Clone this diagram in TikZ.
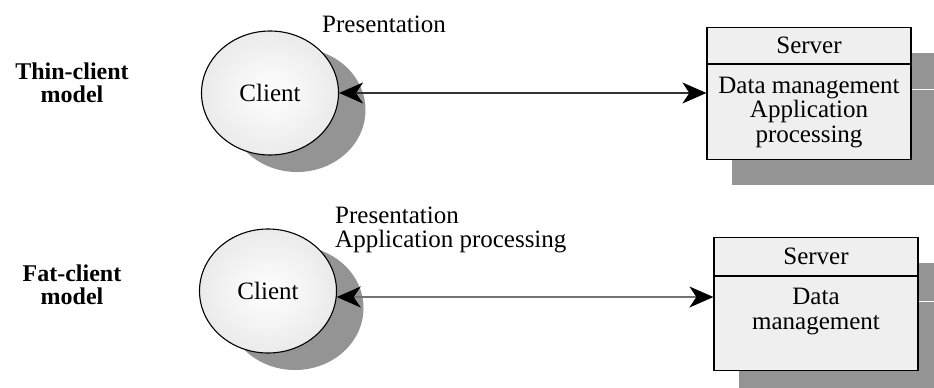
\documentclass[tikz,border=0pt]{standalone}
\usepackage{fontspec}
\setmainfont{Liberation Serif}
\usetikzlibrary{shapes.geometric,arrows.meta,shadows}

\definecolor{shadowgray}{HTML}{949494}
\definecolor{boxfill}{HTML}{EFEFEF}

\tikzset{
  every node/.style={font=\fontsize{25}{24.5}\selectfont, inner sep=0pt},
  clientnode/.style={ellipse, draw=black, line width=1.1pt,
    minimum width=137pt, minimum height=124pt,
    shading=radial, inner color=white, outer color=black!8,
    drop shadow={shadow xshift=27pt, shadow yshift=-17pt, fill=shadowgray, opacity=1}},
  serverhead/.style={rectangle, draw=black, line width=1.2pt, fill=boxfill,
    minimum width=204pt, anchor=north,
    drop shadow={shadow xshift=25pt, shadow yshift=-25pt, fill=shadowgray, opacity=1}},
  serverbody/.style={rectangle, draw=black, line width=1.2pt, fill=boxfill,
    minimum width=204pt, anchor=north, align=center,
    drop shadow={shadow xshift=25pt, shadow yshift=-25pt, fill=shadowgray, opacity=1}},
  modellabel/.style={font=\bfseries\fontsize{24}{23}\selectfont, align=center},
  tierlabel/.style={anchor=west, align=left},
  bigtip/.tip={Stealth[length=24pt, width=21pt, inset=7pt, color=black]},
  link/.style={line width=1.4pt, bigtip-bigtip}
}

\begin{document}
\begin{tikzpicture}[x=1pt, y=-1pt]
  \useasboundingbox (0,0) rectangle (934,388);

  % Thin-client model
  \node[modellabel] (thin) at (72,83) {Thin-client\\model};
  \node[clientnode] (c1) at (270,93) {Client};
  \node[tierlabel] (p1) at (322,24) {Presentation};
  \node[serverhead, minimum height=36pt] (s1h) at (809,27) {Server};
  \node[serverbody, minimum height=95pt] (s1) at (s1h.south) {Data management\\Application\\processing};
  \draw[link, draw=black!80] (c1.east) -- (c1.east -| s1.west);

  % Fat-client model
  \node[modellabel] (fat) at (72,285) {Fat-client\\model};
  \node[clientnode] (c2) at (268,291) {Client};
  \node[tierlabel] (p2) at (335,230) {Presentation\\Application processing};
  \node[serverhead, minimum height=38pt] (s2h) at (816,237) {Server};
  \node[serverbody, minimum height=94pt] (s2) at (s2h.south) {Data\\management\\[5pt]};
  \draw[link, draw=black!55] (c2.-5) -- (c2.-5 -| s2.west);
\end{tikzpicture}
\end{document}
